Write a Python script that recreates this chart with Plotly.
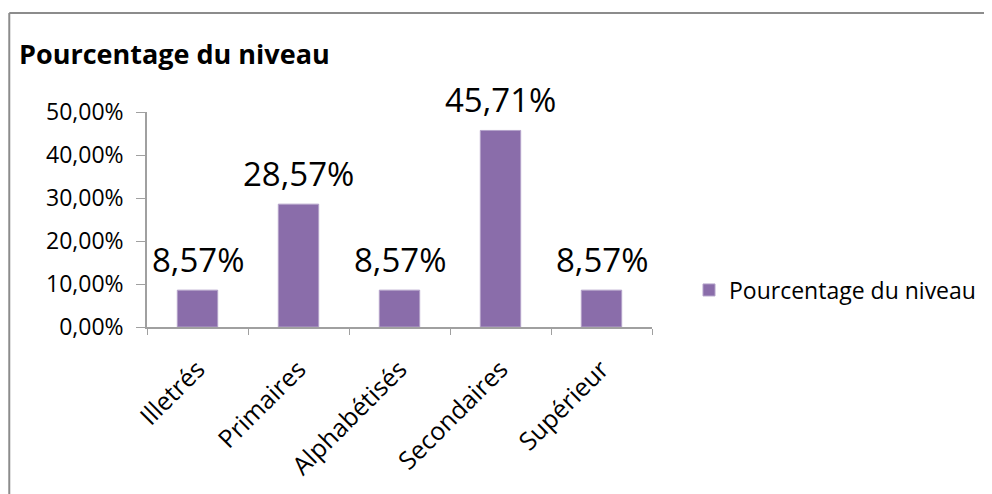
import plotly.graph_objects as go

categories = ["Illetrés", "Primaires", "Alphabétisés", "Secondaires", "Supérieur"]
values = [0.0857, 0.2857, 0.0857, 0.4571, 0.0857]
value_labels = ["8,57%", "28,57%", "8,57%", "45,71%", "8,57%"]
tick_values = [0, 0.1, 0.2, 0.3, 0.4, 0.5]
tick_labels = ["0,00%", "10,00%", "20,00%", "30,00%", "40,00%", "50,00%"]
series_name = "Pourcentage du niveau"

FONT = "Open Sans"
W, H = 984, 486          # page body has an 8px margin
L, R, T, B = 139, 339, 104, 167
pw, ph = W - L - R, H - T - B

def px_x(x):
    return (x - L) / pw

def px_y(y):
    return (H - B - y) / ph

fig = go.Figure()
fig.add_trace(go.Bar(
    x=categories, y=values, name=series_name,
    marker=dict(color="#8A6DAA", line=dict(color="#B3A2C9", width=1)),
    showlegend=True,
))

for c, v, t in zip(categories, values, value_labels):
    fig.add_annotation(x=c, y=v, text=t, showarrow=False, yanchor="bottom",
                       yshift=6, font=dict(family=FONT, size=33, color="#000"))

# chart frame
fig.add_shape(type="line", xref="paper", yref="paper",
              x0=px_x(1), x1=px_x(1), y0=px_y(5), y1=px_y(520),
              line=dict(color="#8C8C8C", width=2))
fig.add_shape(type="line", xref="paper", yref="paper",
              x0=px_x(1), x1=px_x(1000), y0=px_y(5), y1=px_y(5),
              line=dict(color="#8C8C8C", width=2))

fig.update_layout(
    width=W, height=H,
    margin=dict(l=L, r=R, t=T, b=B, pad=0),
    paper_bgcolor="white", plot_bgcolor="white",
    bargap=0.6,
    font=dict(family=FONT, color="#000"),
    title=dict(text="<b>Pourcentage du niveau</b>", x=11 / W, xanchor="left",
               xref="container", y=1 - 37 / H, yanchor="top", yref="container",
               font=dict(family=FONT, size=27, color="#000")),
    legend=dict(x=px_x(681), y=px_y(282), xanchor="left", yanchor="middle",
                font=dict(family=FONT, size=23, color="#000"),
                itemwidth=30, bgcolor="rgba(0,0,0,0)"),
    xaxis=dict(showline=True, linecolor="#A0A0A0", linewidth=1.5,
               ticks="outside", ticklen=6, tickcolor="#A0A0A0",
               tickson="boundaries", tickangle=-45, ticklabelstandoff=16,
               tickfont=dict(family=FONT, size=25, color="#000"),
               showgrid=False, zeroline=False, fixedrange=True),
    yaxis=dict(range=[0, 0.5], tickvals=tick_values, ticktext=tick_labels,
               showline=True, linecolor="#A0A0A0", linewidth=1.5,
               ticks="outside", ticklen=9, tickcolor="#A0A0A0",
               ticklabelstandoff=8,
               tickfont=dict(family=FONT, size=23, color="#000"),
               showgrid=False, zeroline=False, fixedrange=True),
)

fig.write_html("out.html")
